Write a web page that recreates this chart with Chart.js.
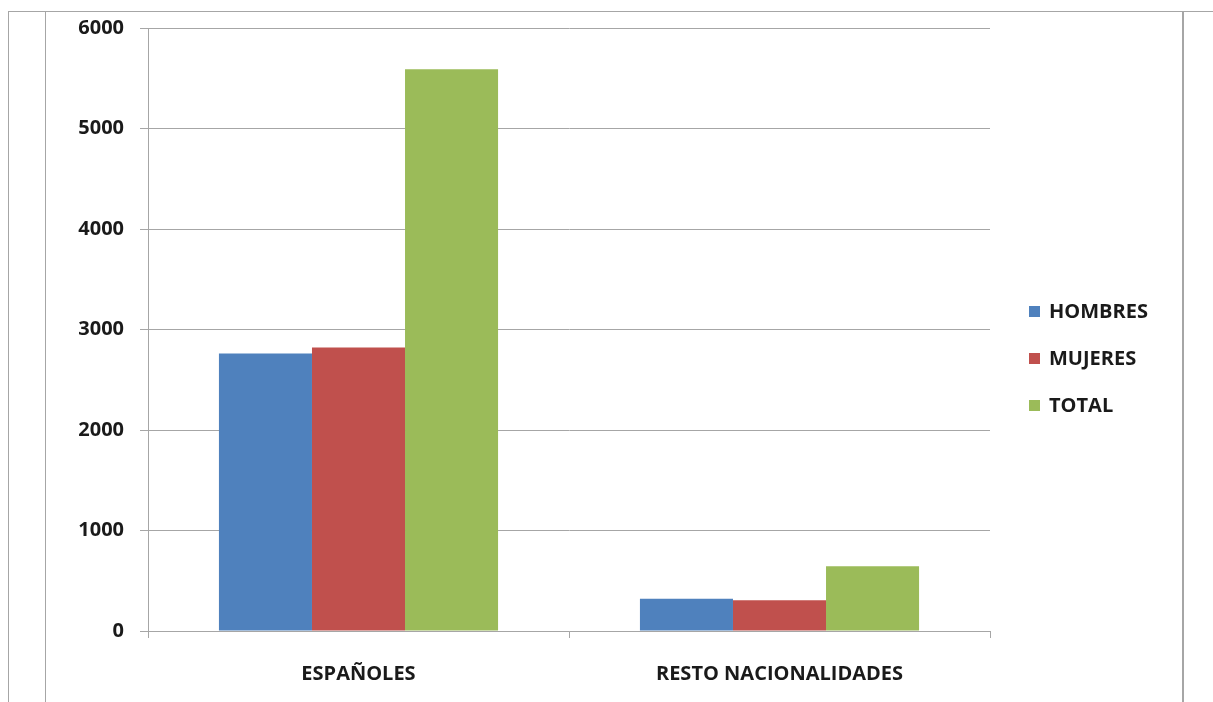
<!DOCTYPE html>
<html>
<head>
<meta charset="utf-8">
<script src="https://cdn.jsdelivr.net/npm/chart.js@4"></script>
<style>
  html, body { margin: 0; padding: 0; background: #fff; }
  #wrap { position: relative; width: 1213px; height: 702px; overflow: hidden; }
  .ln { position: absolute; background: #a6a6a6; }
  #legend { position: absolute; left: 1029px; top: 297px; font: bold 20px "Open Sans", sans-serif; color: #1a1a1a; line-height: 28px; }
  #legend div { height: 47px; display: flex; align-items: flex-start; }
  #legend span.box { display: inline-block; width: 11px; height: 11px; margin: 9px 9px 0 0; }
</style>
</head>
<body>
<div id="wrap">
  <canvas id="myChart" width="1213" height="702"></canvas>
  <!-- frame lines of the sheet -->
  <div class="ln" style="left:8px; top:11px; width:1205px; height:1px;"></div>
  <div class="ln" style="left:8px; top:11px; width:1px; height:691px;"></div>
  <div class="ln" style="left:45px; top:11px; width:1px; height:691px;"></div>
  <div class="ln" style="left:1182px; top:11px; width:2px; height:691px;"></div>
  <div id="legend"></div>
</div>
<script>
// chart data
const categories = ['ESPAÑOLES', 'RESTO NACIONALIDADES'];
const seriesNames = ['HOMBRES', 'MUJERES', 'TOTAL'];
const hombres = [2760, 320];
const mujeres = [2820, 305];
const total = [5590, 645];
const yTicks = [0, 1000, 2000, 3000, 4000, 5000, 6000];

const colors = ['#4f81bd', '#c0504d', '#9bbb59'];
const values = [hombres, mujeres, total];
const font = { family: '"Open Sans", sans-serif', size: 20, weight: 'bold' };

const datasets = seriesNames.map((name, i) => ({
    label: name,
    data: values[i],
    backgroundColor: colors[i],
    borderWidth: 0,
    categoryPercentage: 0.663,
    barPercentage: 1.0
}));

const ctx = document.getElementById('myChart').getContext('2d');
const chart = new Chart(ctx, {
    type: 'bar',
    data: { labels: categories, datasets: datasets },
    options: {
        responsive: false,
        animation: false,
        layout: { padding: { top: 28, right: 223, bottom: 0, left: 0 } },
        plugins: { legend: { display: false }, tooltip: { enabled: false } },
        scales: {
            x: {
                afterFit: scale => { scale.height = 71; },
                grid: { drawOnChartArea: false, tickLength: 7, color: '#a6a6a6' },
                border: { color: '#a6a6a6' },
                ticks: { font: font, color: '#1a1a1a', padding: 24 }
            },
            y: {
                min: 0,
                max: 6000,
                afterFit: scale => { scale.width = 148; },
                afterBuildTicks: scale => { scale.ticks = yTicks.map(v => ({ value: v })); },
                grid: { color: '#a6a6a6', tickLength: 8 },
                border: { color: '#a6a6a6' },
                ticks: { font: font, color: '#1a1a1a', padding: 16, callback: v => String(v) }
            }
        }
    }
});

// legend built from the datasets
const legend = document.getElementById('legend');
chart.data.datasets.forEach(ds => {
    const row = document.createElement('div');
    row.innerHTML = '<span class="box" style="background:' + ds.backgroundColor + '"></span>' + ds.label;
    legend.appendChild(row);
});
</script>
</body>
</html>
